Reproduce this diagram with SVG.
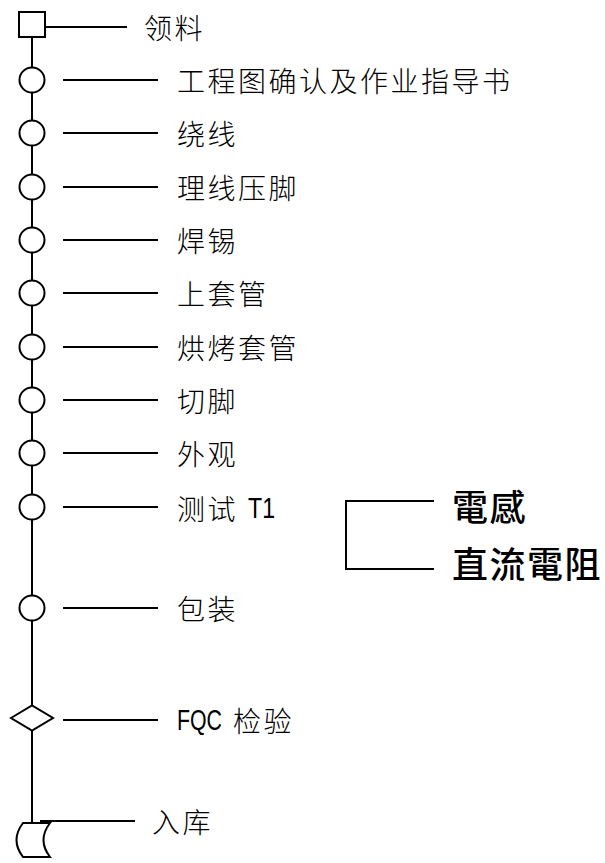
<svg xmlns="http://www.w3.org/2000/svg" width="605" height="863" viewBox="0 0 605 863">
<style>
.s{fill:#fff;stroke:#000;stroke-width:2}
.c line,.c path{stroke:#000;stroke-width:2;fill:none}
.t{font-family:"Noto Sans CJK SC","Noto Sans CJK TC",sans-serif;font-size:28px;font-weight:300;letter-spacing:2.5px;fill:#000;dominant-baseline:central}
.n{font-family:"Liberation Sans",Arial,sans-serif;font-size:29px;fill:#000;dominant-baseline:central}
.b{font-family:"Noto Sans CJK TC","Noto Sans CJK SC",sans-serif;font-size:36px;font-weight:500;letter-spacing:1.5px;fill:#000;dominant-baseline:central}
</style>
<rect width="605" height="863" fill="#fff"/>
<g id="connectors" class="c">
<line x1="32" y1="37" x2="32" y2="823"/>
<line x1="45" y1="27" x2="127" y2="27"/>
<line x1="63" y1="80" x2="158" y2="80"/>
<line x1="63" y1="133" x2="158" y2="133"/>
<line x1="63" y1="187" x2="158" y2="187"/>
<line x1="63" y1="240" x2="158" y2="240"/>
<line x1="63" y1="293" x2="158" y2="293"/>
<line x1="63" y1="347" x2="158" y2="347"/>
<line x1="63" y1="400" x2="158" y2="400"/>
<line x1="63" y1="453" x2="158" y2="453"/>
<line x1="63" y1="507" x2="158" y2="507"/>
<line x1="63" y1="608" x2="158" y2="608"/>
<line x1="63" y1="720" x2="158" y2="720"/>
<line x1="40" y1="821" x2="135" y2="821"/>
<path d="M434,501 H346 V569 H434"/>
</g>
<g id="n0"><rect class="s" x="19" y="12" width="26" height="25"/><text class="t" x="144" y="27">领料</text></g>
<g id="n1"><circle class="s" cx="32" cy="80" r="12.5"/><text class="t" x="177" y="80">工程图确认及作业指导书</text></g>
<g id="n2"><circle class="s" cx="32" cy="133" r="12.5"/><text class="t" x="177" y="133">绕线</text></g>
<g id="n3"><circle class="s" cx="32" cy="187" r="12.5"/><text class="t" x="177" y="187">理线压脚</text></g>
<g id="n4"><circle class="s" cx="32" cy="240" r="12.5"/><text class="t" x="177" y="240">焊锡</text></g>
<g id="n5"><circle class="s" cx="32" cy="293" r="12.5"/><text class="t" x="177" y="293">上套管</text></g>
<g id="n6"><circle class="s" cx="32" cy="347" r="12.5"/><text class="t" x="177" y="347">烘烤套管</text></g>
<g id="n7"><circle class="s" cx="32" cy="400" r="12.5"/><text class="t" x="177" y="400">切脚</text></g>
<g id="n8"><circle class="s" cx="32" cy="453" r="12.5"/><text class="t" x="177" y="453">外观</text></g>
<g id="n9"><circle class="s" cx="32" cy="507" r="12.5"/><text class="t" x="177" y="508">测试</text><text class="n" x="248" y="508" textLength="27" lengthAdjust="spacingAndGlyphs">T1</text></g>
<g id="n10"><circle class="s" cx="32" cy="608" r="12.5"/><text class="t" x="177" y="608">包装</text></g>
<g id="n11"><path class="s" d="M11,718 L32,705.5 L53,718 L32,730.5 Z"/><text class="n" x="177" y="720" textLength="45" lengthAdjust="spacingAndGlyphs">FQC</text><text class="t" x="233" y="720">检验</text></g>
<g id="n12"><path class="s" d="M23,823 L50,823 Q37,840 50,857 L23,857 Q10,840 23,823 Z"/><text class="t" x="152" y="821">入库</text></g>
<g id="n13"><text class="b" x="452" y="505">電感</text></g>
<g id="n14"><text class="b" x="452" y="562">直流電阻</text></g>
</svg>
